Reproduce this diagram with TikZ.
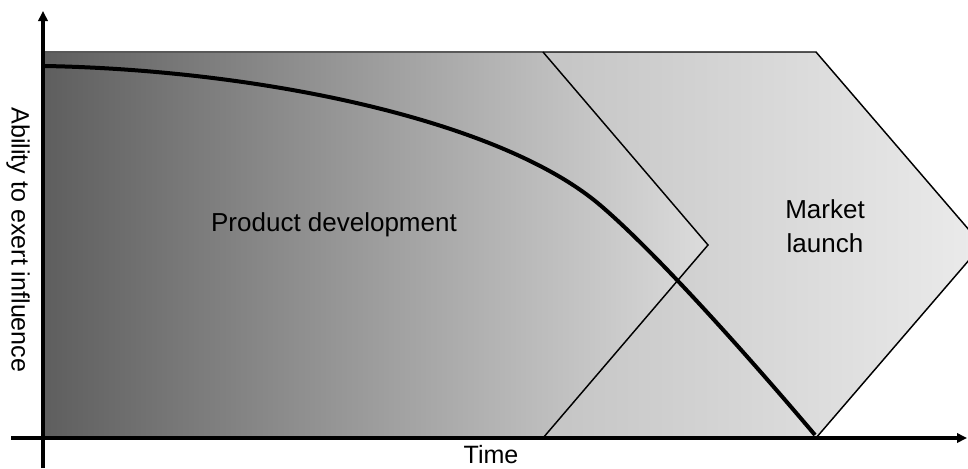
\documentclass[tikz,border=0pt]{standalone}
\usepackage{fontspec}
\setmainfont{Liberation Sans}
\usetikzlibrary{arrows.meta}
\definecolor{pdLeft}{HTML}{5E5E5E}
\definecolor{pdRight}{HTML}{DCDCDC}
\definecolor{mlLeft}{HTML}{C4C4C4}
\definecolor{mlRight}{HTML}{EBEBEB}
\begin{document}
\begin{tikzpicture}[x=0.75pt,y=-0.75pt,
  axisline/.style={line width=2.4pt,-{Triangle[length=7.5pt,width=7pt]}},
  chevedge/.style={line width=1.1pt,draw=black},
  topedge/.style={line width=1.1pt,draw=black!65},
  lbl/.style={font=\fontsize{19.5}{25.5}\selectfont, align=center, inner sep=0pt},
  curveline/.style={line width=3pt,draw=black}]
\useasboundingbox (0,0) rectangle (968,468);
\begin{scope}
\clip (0,0) rectangle (968,468);
% market launch chevron (behind)
\shade[left color=mlLeft,right color=mlRight]
  (543,52) -- (816,52) -- (982,245) -- (816,438) -- (543,438) -- cycle;
% product development chevron
\shade[left color=pdLeft,right color=pdRight]
  (43,52) -- (543,52) -- (708,245) -- (543,438) -- (43,438) -- cycle;
\draw[topedge] (43,52) -- (543,52);
\draw[chevedge] (543,52) -- (816,52) -- (982,245) -- (816,438);
\draw[chevedge] (543,52) -- (708,245) -- (543,438);
% influence curve
\coordinate (c0) at (45,66);
\coordinate (c1) at (600,205);
\coordinate (c2) at (815,435);
\draw[curveline] (c0) .. controls (260,70) and (500,120) .. (c1)
  .. controls (660,256) and (760,370) .. (c2);
\end{scope}
% axes
\coordinate (yb) at (43,468);
\coordinate (yt) at (43,11);
\coordinate (xl) at (11,438);
\coordinate (xr) at (967,438);
\draw[axisline] (yb) -- (yt);
\draw[axisline] (xl) -- (xr);
% labels
\node[lbl] (pd) at (334,225) {Product development};
\node[lbl] (ml) at (825,226) {Market\\launch};
\node[lbl,font=\fontsize{18.8}{22}\selectfont,anchor=base] (time) at (491,463) {Time};
\node[lbl,font=\fontsize{18.8}{22}\selectfont,rotate=-90] (ability) at (18,240) {Ability to exert influence};
\end{tikzpicture}
\end{document}
